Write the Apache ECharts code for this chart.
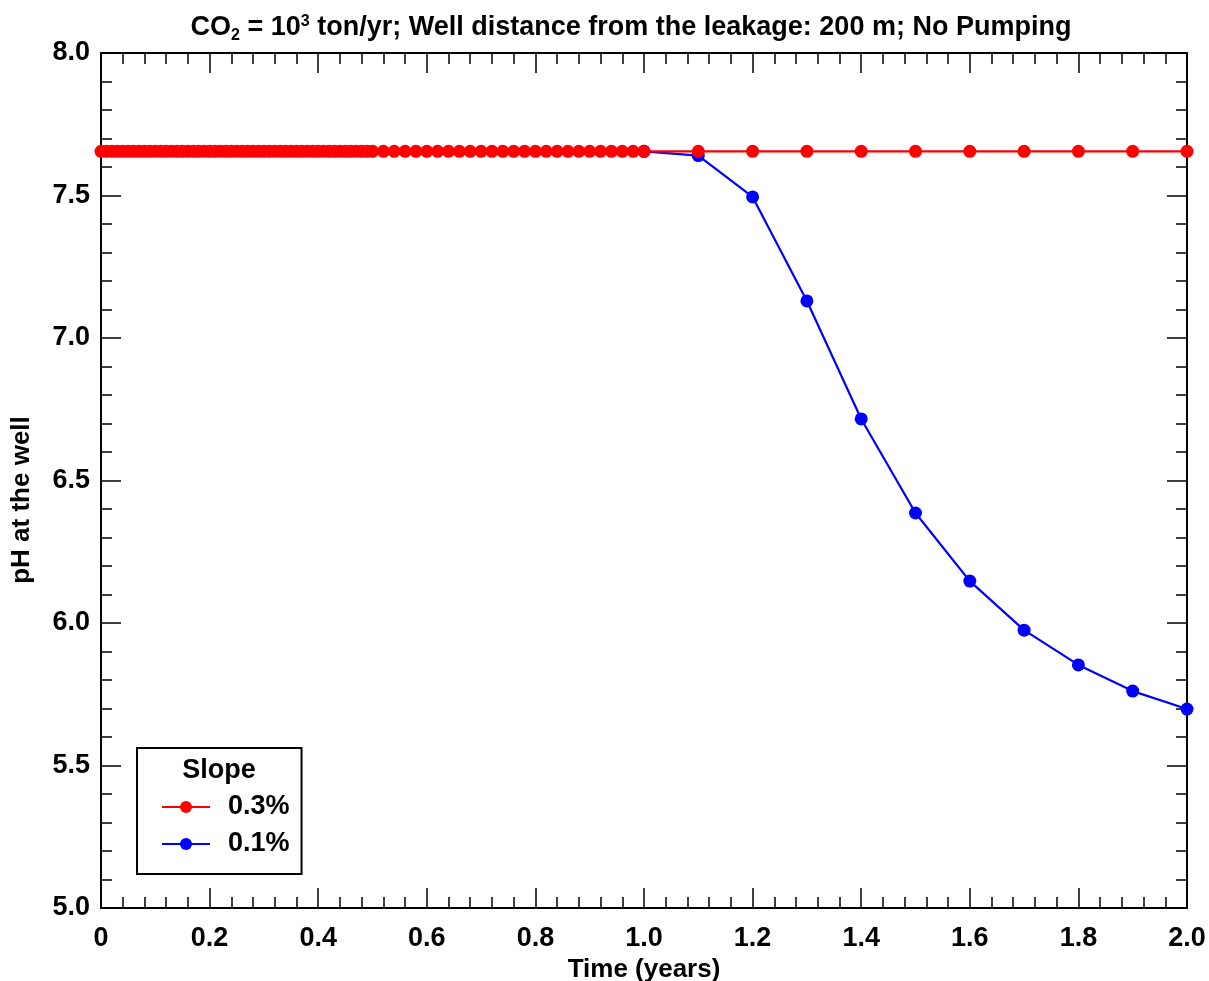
<!DOCTYPE html>
<html>
<head>
<meta charset="utf-8">
<script src="https://cdn.jsdelivr.net/npm/echarts@6/dist/echarts.min.js"></script>
<style>
html,body{margin:0;padding:0;background:#fff;}
#chart{width:1209px;height:981px;}
</style>
</head>
<body>
<div id="chart"></div>
<script>
// ---- data ----
const redTime = [
  0,0.01,0.02,0.03,0.04,0.05,0.06,0.07,0.08,0.09,
  0.1,0.11,0.12,0.13,0.14,0.15,0.16,0.17,0.18,0.19,
  0.2,0.21,0.22,0.23,0.24,0.25,0.26,0.27,0.28,0.29,
  0.3,0.31,0.32,0.33,0.34,0.35,0.36,0.37,0.38,0.39,
  0.4,0.41,0.42,0.43,0.44,0.45,0.46,0.47,0.48,0.49,
  0.5,0.52,0.54,0.56,0.58,0.6,0.62,0.64,0.66,0.68,
  0.7,0.72,0.74,0.76,0.78,0.8,0.82,0.84,0.86,0.88,
  0.9,0.92,0.94,0.96,0.98,1.0,
  1.1,1.2,1.3,1.4,1.5,1.6,1.7,1.8,1.9,2.0
];
const redPH = [
  7.655,7.655,7.655,7.655,7.655,7.655,7.655,7.655,7.655,7.655,
  7.655,7.655,7.655,7.655,7.655,7.655,7.655,7.655,7.655,7.655,
  7.655,7.655,7.655,7.655,7.655,7.655,7.655,7.655,7.655,7.655,
  7.655,7.655,7.655,7.655,7.655,7.655,7.655,7.655,7.655,7.655,
  7.655,7.655,7.655,7.655,7.655,7.655,7.655,7.655,7.655,7.655,
  7.655,7.655,7.655,7.655,7.655,7.655,7.655,7.655,7.655,7.655,
  7.655,7.655,7.655,7.655,7.655,7.655,7.655,7.655,7.655,7.655,
  7.655,7.655,7.655,7.655,7.655,7.655,
  7.655,7.655,7.655,7.655,7.655,7.655,7.655,7.655,7.655,7.655
];
const blueTime = [1.0,1.1,1.2,1.3,1.4,1.5,1.6,1.7,1.8,1.9,2.0];
const bluePH   = [7.655,7.64,7.495,7.13,6.716,6.386,6.147,5.975,5.853,5.761,5.698];
const seriesNames = ['0.3%','0.1%'];
const legendTitle = 'Slope';
const xTickLabels = ['0','0.2','0.4','0.6','0.8','1.0','1.2','1.4','1.6','1.8','2.0'];
const yTickLabels = ['5.0','5.5','6.0','6.5','7.0','7.5','8.0'];
const xName = 'Time (years)';
const yName = 'pH at the well';

// ---- chart ----
const FONT = 'Liberation Sans, Arial, sans-serif';
const chart = echarts.init(document.getElementById('chart'), null, {renderer:'canvas'});

function pairs(xs, ys){ return xs.map((x,i)=>[x, ys[i]]); }

const tickCommon = {
  axisLine:{show:true, onZero:false, lineStyle:{color:'#000', width:2}},
  axisTick:{show:true, inside:true, length:20, lineStyle:{color:'#000', width:1.5}},
  minorTick:{show:true, length:11, lineStyle:{color:'#000', width:1.5}},
  splitLine:{show:false},
  minorSplitLine:{show:false}
};

const xBase = Object.assign({type:'value', min:0, max:2, interval:0.2}, tickCommon);
const yBase = Object.assign({type:'value', min:5, max:8, interval:0.5}, tickCommon);

const option = {
  backgroundColor:'#fff',
  animation:false,
  grid:{left:101, right:22, top:53, bottom:73, containLabel:false, outerBoundsMode:'none'},
  graphic:[
    {
      type:'text', x:631, y:28,
      style:{
        text:'{a|CO}{sub|2}{a| = 10}{sup|3}{a| ton/yr; Well distance from the leakage: 200 m; No Pumping}',
        align:'center', verticalAlign:'middle',
        rich:{
          a:{fontFamily:FONT, fontWeight:'bold', fontSize:27, fill:'#000', lineHeight:34, verticalAlign:'middle'},
          sub:{fontFamily:FONT, fontWeight:'bold', fontSize:16, fill:'#000', lineHeight:34, padding:[16,0,0,0]},
          sup:{fontFamily:FONT, fontWeight:'bold', fontSize:16, fill:'#000', lineHeight:34, padding:[0,0,12,0]}
        }
      }
    },
    {
      type:'text', x:219, y:771,
      style:{text:legendTitle, align:'center', verticalAlign:'middle',
        fontFamily:FONT, fontWeight:'bold', fontSize:27, fill:'#000'}
    },
    {
      type:'text', x:22, y:500, rotation:Math.PI/2,
      style:{text:yName, align:'center', verticalAlign:'middle',
        fontFamily:FONT, fontWeight:'bold', fontSize:26, fill:'#000'}
    }
  ],
  legend:{
    left:137, top:748, orient:'vertical',
    padding:[45,12,16,24],
    borderColor:'#000', borderWidth:2,
    itemWidth:48, itemHeight:15, itemGap:9,
    textStyle:{fontFamily:FONT, fontWeight:'bold', fontSize:27, color:'#000', lineHeight:28, padding:[0,0,0,13]},
    data:seriesNames
  },
  xAxis:[
    Object.assign({}, xBase, {
      position:'bottom',
      name:xName, nameLocation:'middle', nameGap:47,
      nameTextStyle:{fontFamily:FONT, fontWeight:'bold', fontSize:26, color:'#000'},
      axisLabel:{show:true, margin:17, fontFamily:FONT, fontWeight:'bold', fontSize:27, color:'#000',
        formatter:function(v){ const i = Math.round(v/0.2); return xTickLabels[i] !== undefined ? xTickLabels[i] : ''; }}
    }),
    Object.assign({}, xBase, {position:'top', axisLabel:{show:false}})
  ],
  yAxis:[
    Object.assign({}, yBase, {
      position:'left',
      axisLabel:{show:true, margin:11, fontFamily:FONT, fontWeight:'bold', fontSize:27, color:'#000',
        formatter:function(v){ const i = Math.round((v-5)/0.5); return yTickLabels[i] !== undefined ? yTickLabels[i] : ''; }}
    }),
    Object.assign({}, yBase, {position:'right', axisLabel:{show:false}})
  ],
  series:[
    {
      name:seriesNames[0], type:'line', xAxisIndex:0, yAxisIndex:0, z:4,
      data:pairs(redTime, redPH),
      symbol:'circle', symbolSize:13, showAllSymbol:true,
      lineStyle:{color:'#ff0000', width:2.2},
      itemStyle:{color:'#ff0000'}
    },
    {
      name:seriesNames[1], type:'line', xAxisIndex:0, yAxisIndex:0, z:3,
      data:pairs(blueTime, bluePH),
      symbol:'circle', symbolSize:13, showAllSymbol:true,
      lineStyle:{color:'#0000ff', width:2.2},
      itemStyle:{color:'#0000ff'}
    }
  ]
};
chart.setOption(option);
</script>
</body>
</html>
